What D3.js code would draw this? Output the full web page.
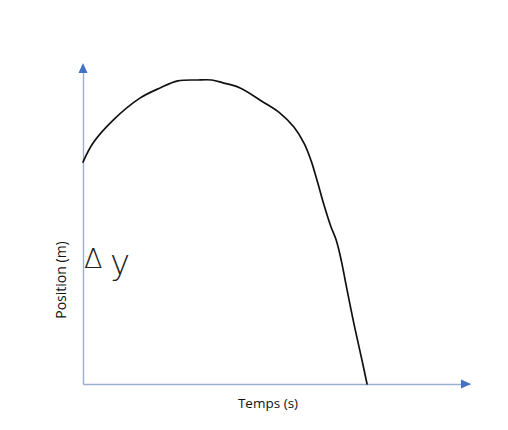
<!DOCTYPE html>
<html>
<head>
<meta charset="utf-8">
<script src="https://cdn.jsdelivr.net/npm/d3@7"></script>
<style>
  body { margin: 0; background: #fff; }
  text { font-family: "Open Sans", "Liberation Sans", sans-serif; }
</style>
</head>
<body>
<div id="chart"></div>
<script>
// hand drawn trajectory (time %, position %)
var temps = [0, 2.6, 7.8, 14.7, 19.9, 24.5, 29.5, 33.3, 36.2, 40.6, 46.5, 50.9,
             54.5, 57.2, 59.0, 60.6, 62.2, 64.0, 65.5, 66.8, 68.0, 70.0, 72.0, 73.4];
var position = [69.8, 75.8, 83.0, 89.9, 93.1, 95.3, 95.6, 95.6, 94.7, 93.1, 88.7, 85.2,
                80.8, 75.5, 70.0, 63.5, 56.6, 49.7, 45.0, 38.5, 31.0, 19.0, 8.0, 0];
var xLabel = "Temps (s)";
var yLabel = "Position (m)";

var width = 508, height = 430;
var margin = {top: 66, right: 38, bottom: 46, left: 83};

var svg = d3.select("#chart").append("svg")
    .attr("width", width)
    .attr("height", height);

var x = d3.scaleLinear().domain([0, 100]).range([margin.left, width - margin.right]);
var y = d3.scaleLinear().domain([0, 100]).range([height - margin.bottom, margin.top]);

var axisColor = "#9aaed0", arrowColor = "#4472c4";

// axes without ticks, just the lines
svg.append("g")
    .attr("transform", "translate(0," + y(0) + ")")
    .call(d3.axisBottom(x).tickValues([]).tickSizeOuter(0));
svg.append("g")
    .attr("transform", "translate(" + x(0) + ",0)")
    .call(d3.axisLeft(y).tickValues([]).tickSizeOuter(0));
svg.selectAll(".domain").attr("stroke", axisColor).attr("stroke-width", 1.4);

// arrow heads
var xe = x(100), ye = y(100);
svg.append("path")
    .attr("d", "M" + (xe + 1) + "," + y(0) + "L" + (xe - 9) + "," + (y(0) - 4.5) + "L" + (xe - 9) + "," + (y(0) + 4.5) + "Z")
    .attr("fill", arrowColor);
svg.append("path")
    .attr("d", "M" + x(0) + "," + (ye - 3) + "L" + (x(0) - 4.5) + "," + (ye + 7) + "L" + (x(0) + 4.5) + "," + (ye + 7) + "Z")
    .attr("fill", arrowColor);

var pts = temps.map(function (t, i) { return [t, position[i]]; });

var line = d3.line()
    .x(function (d) { return x(d[0]); })
    .y(function (d) { return y(d[1]); })
    .curve(d3.curveCatmullRom.alpha(0.5));

svg.append("path")
    .datum(pts)
    .attr("d", line)
    .attr("fill", "none")
    .attr("stroke", "#111")
    .attr("stroke-width", 1.7)
    .attr("stroke-linejoin", "round")
    .attr("stroke-linecap", "round");

// labels
svg.append("text")
    .attr("x", 268)
    .attr("y", 408)
    .attr("text-anchor", "middle")
    .attr("font-size", 13.5)
    .attr("fill", "#111")
    .text(xLabel);

svg.append("text")
    .attr("transform", "translate(66,280) rotate(-90)")
    .attr("text-anchor", "middle")
    .attr("font-size", 14)
    .attr("fill", "#111")
    .text(yLabel);

// handwritten delta y note
var note = svg.append("text")
    .attr("x", 84)
    .attr("y", 268)
    .attr("fill", "#222")
    .style("font-family", "'DejaVu Sans'")
    .style("font-weight", 200);
note.append("tspan").attr("font-size", 27).text("Δ");
note.append("tspan").attr("x", 110).attr("dy", 6).attr("font-size", 34).text("y");
</script>
</body>
</html>
